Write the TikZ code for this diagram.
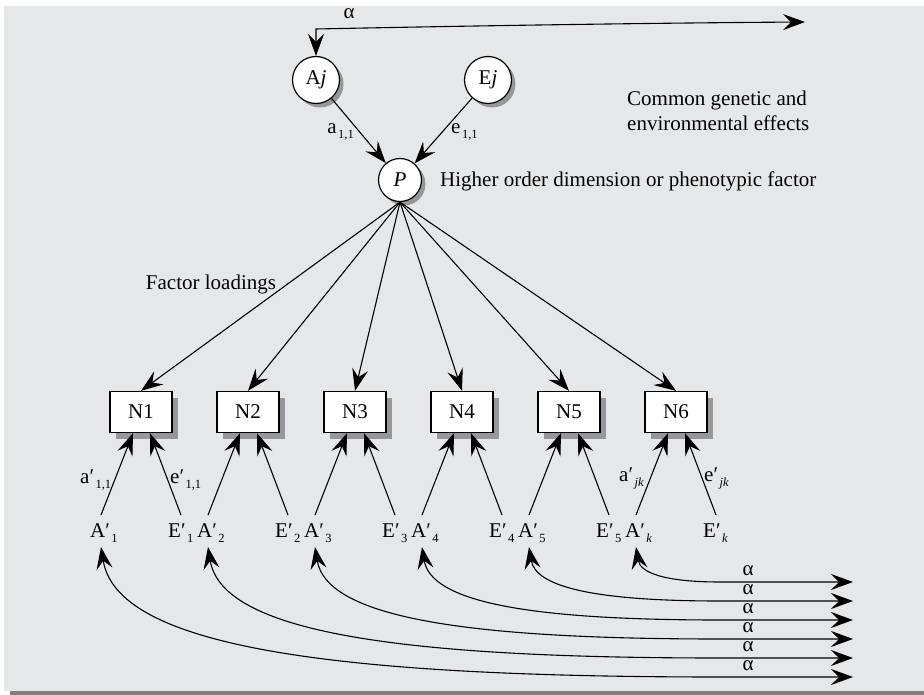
\documentclass[tikz,border=0pt]{standalone}
\usepackage{fontspec}
\setmainfont{Liberation Serif}
\usetikzlibrary{arrows.meta,calc,shadows}
\definecolor{panel}{RGB}{230,231,232}
\definecolor{shade}{RGB}{150,151,154}
\definecolor{rulegray}{RGB}{128,128,128}
% lowered small subscript used in the path labels
\newcommand{\lowsub}[1]{\kern1.5pt\raisebox{-5pt}{\fontsize{12.5}{12.5}\selectfont #1}}
\begin{document}
\begin{tikzpicture}[x=1pt,y=-1pt,
  font=\fontsize{21}{25}\selectfont,
  every node/.style={inner sep=0pt},
  arr/.style={line width=1.1pt,-{Stealth[length=22pt,width=16pt,inset=8pt]}},
  darr/.style={line width=1.1pt,{Stealth[length=22pt,width=16pt,inset=8pt]}-{Stealth[length=22pt,width=16pt,inset=8pt]}},
  ball/.style={circle,draw,fill=white,line width=1.2pt,minimum size=47pt,
    drop shadow={shadow xshift=4pt,shadow yshift=-4pt,fill=shade,opacity=1}},
  boxn/.style={rectangle,draw,fill=white,line width=1.3pt,minimum width=62pt,minimum height=41pt,
    drop shadow={shadow xshift=6pt,shadow yshift=-6pt,fill=shade,opacity=1}},
  lbl/.style={anchor=base west},
  alp/.style={text height=9pt,text depth=0pt}]
\useasboundingbox (0,0) rectangle (924,695);
\fill[panel] (4,6) rectangle (924,691);
\fill[rulegray] (10,691) rectangle (924,695);

% latent factors
\node[ball] (Aj) at (316,80) {A\textit{j}};
\node[ball] (Ej) at (488,80) {E\textit{j}};
\node[ball,minimum size=43pt] (P) at (400,180) {\textit{P}};

% common correlation arrow
\coordinate (bend) at (316,29);
\coordinate (farend) at (805,22);
\draw[darr] (Aj) -- (bend) .. controls (460,26) and (650,23) .. (farend);
\node[alp] (alpha0) at (349,14) {α};

\draw[arr] (Aj) -- (P);
\draw[arr] (Ej) -- (P);
\node[anchor=base east] (a11) at (354,134) {a\lowsub{1,1}};
\node[lbl] (e11) at (451,134) {e\lowsub{1,1}};

\node[lbl] (hod) at (440,187) {Higher order dimension or phenotypic factor};
\node[anchor=north west,align=left,font=\fontsize{21}{25}\selectfont] (cge) at (627,91)
  {Common genetic and\\environmental effects};
\node (fl) at (211,284) {Factor loadings};

% observed scales and their specific effects
\foreach \i/\s in {1/1,2/2,3/3,4/4,5/5,6/\textit{k}}{
  \pgfmathsetmacro{\cx}{141+107*(\i-1)}
  \node[boxn] (N\i) at (\cx,412) {N\i};
  \draw[arr] (P.south) -- (N\i.north);
  \coordinate (a\i) at (\cx-40,515);
  \coordinate (e\i) at (\cx+40,515);
  \draw[arr] (a\i) -- ($(N\i.south)+(-8,0)$);
  \draw[arr] (e\i) -- ($(N\i.south)+(9,0)$);
  \node[lbl] (A\i) at (\cx-51,537) {A′\lowsub{\s}};
  \node[lbl] (E\i) at (\cx+27,537) {E′\lowsub{\s}};
}
\node[lbl] (la11) at (80,483) {a′\lowsub{1,1}};
\node[lbl] (le11) at (170,483) {e′\lowsub{1,1}};
\node[lbl] (lajk) at (619,481) {a′\lowsub{\textit{jk}}};
\node[lbl] (lejk) at (704,481) {e′\lowsub{\textit{jk}}};

% correlations of the specific genetic effects
\foreach \n/\xa/\ye in {1/101/677,2/208/658,3/315/639,4/422/620,5/529/601,6/636/582}{
  \pgfmathsetmacro{\dd}{\ye-546}
  \pgfmathsetmacro{\cax}{\xa+0.12*\dd}
  \pgfmathsetmacro{\cay}{546+0.75*\dd}
  \pgfmathsetmacro{\cbx}{\xa+0.35*(720-\xa)}
  \coordinate (t\n) at (\xa,547);
  \coordinate (r\n) at (853,\ye);
  \draw[darr] (t\n) .. controls (\cax,\cay) and (\cbx,\ye) .. (720,\ye) -- (r\n);
  \node[alp] (al\n) at (748,\ye-11) {α};
}
\end{tikzpicture}
\end{document}
